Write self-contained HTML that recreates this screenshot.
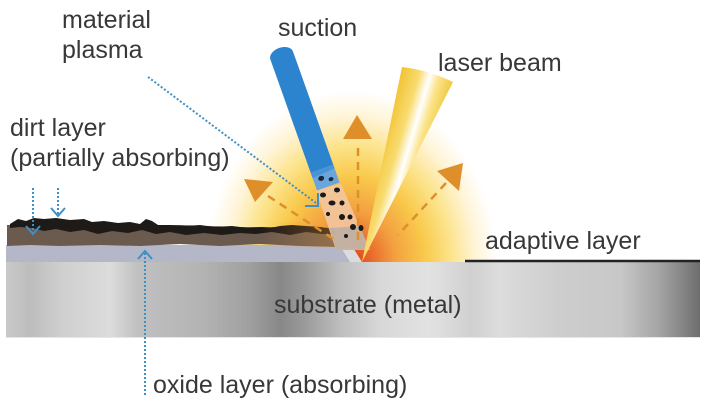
<!DOCTYPE html>
<html>
<head>
<meta charset="utf-8">
<style>
html,body{margin:0;padding:0;background:#fff;}
svg{display:block;}
text{font-family:"Liberation Sans",Arial,sans-serif;font-size:25px;fill:#383838;}
</style>
</head>
<body>
<svg width="707" height="414" viewBox="0 0 707 414" xmlns="http://www.w3.org/2000/svg">
<defs>
  <radialGradient id="glow" gradientUnits="userSpaceOnUse" cx="352" cy="262" r="145" gradientTransform="translate(352 262) scale(1 1.18) translate(-352 -262)">
    <stop offset="0" stop-color="#dc3d16"/>
    <stop offset="0.12" stop-color="#e8652a"/>
    <stop offset="0.3" stop-color="#f3a040"/>
    <stop offset="0.5" stop-color="#f9c94a"/>
    <stop offset="0.68" stop-color="#fce38a"/>
    <stop offset="0.85" stop-color="#fff4d6"/>
    <stop offset="1" stop-color="#ffffff"/>
  </radialGradient>
  <linearGradient id="sub" x1="6" y1="0" x2="700" y2="0" gradientUnits="userSpaceOnUse">
    <stop offset="0" stop-color="#c9c9c9"/>
    <stop offset="0.035" stop-color="#bdbdbd"/>
    <stop offset="0.08" stop-color="#cfcfcf"/>
    <stop offset="0.15" stop-color="#dcdcdc"/>
    <stop offset="0.19" stop-color="#c0c0c0"/>
    <stop offset="0.28" stop-color="#b4b4b4"/>
    <stop offset="0.35" stop-color="#a0a0a0"/>
    <stop offset="0.395" stop-color="#888888"/>
    <stop offset="0.43" stop-color="#9a9a9a"/>
    <stop offset="0.48" stop-color="#bdbdbd"/>
    <stop offset="0.54" stop-color="#d8d8d8"/>
    <stop offset="0.61" stop-color="#e2e2e2"/>
    <stop offset="0.67" stop-color="#d0d0d0"/>
    <stop offset="0.71" stop-color="#dcdcdc"/>
    <stop offset="0.8" stop-color="#cdcdcd"/>
    <stop offset="0.885" stop-color="#c8c8c8"/>
    <stop offset="0.94" stop-color="#a5a5a5"/>
    <stop offset="1" stop-color="#6e6e6e"/>
  </linearGradient>
  <linearGradient id="beam" x1="402" y1="67" x2="453" y2="82" gradientUnits="userSpaceOnUse">
    <stop offset="0" stop-color="#f2c233"/>
    <stop offset="0.35" stop-color="#f8dc70"/>
    <stop offset="0.55" stop-color="#ffffff"/>
    <stop offset="0.72" stop-color="#fbe48a"/>
    <stop offset="1" stop-color="#f0c840"/>
  </linearGradient>
  <linearGradient id="dirtTint" x1="260" y1="0" x2="345" y2="0" gradientUnits="userSpaceOnUse">
    <stop offset="0" stop-color="#f3a040" stop-opacity="0"/>
    <stop offset="1" stop-color="#f3a040" stop-opacity="0.35"/>
  </linearGradient>
</defs>

<!-- glow -->
<rect x="180" y="80" width="345" height="182" fill="url(#glow)"/>

<!-- substrate -->
<rect x="6" y="262" width="694" height="76" fill="url(#sub)"/>
<line x1="6" y1="337.5" x2="700" y2="337.5" stroke="#e6e6e6" stroke-width="1"/>

<!-- oxide layer -->
<polygon points="6,245 345,245 362,262 6,262" fill="#b4b7c8"/>
<polygon points="340,246 352,246 362,262 350,262" fill="#dcdcdc"/>

<!-- dirt brown layer -->
<path d="M7,225 L60,224 L120,226 L180,225 L240,227 L300,227 L338,228 L340,247 L300,246 L260,244 L220,246 L180,244 L140,246 L100,245 L60,246 L30,245 L7,246 Z" fill="#6b5a4e"/>
<!-- gray removed zone -->
<polygon points="330,230 352,228 360,248 336,248" fill="#8f8f8f"/>

<!-- black dirt blobs -->
<path d="M10,224 L18,219 L26,221 L34,218 L44,219 L56,218 L70,220 L84,219 L92,222 L104,221 L118,223 L130,222 L140,224 L146,219 L152,221 L158,225 L170,225 L186,226 L200,225 L214,227 L232,226 L248,228 L262,227 L270,228 L280,226 L292,225 L306,226 L320,227 L334,229 L336,234 L322,234 L306,232 L290,235 L272,232 L256,234 L240,233 L222,235 L204,233 L186,235 L170,232 L156,234 L142,230 L128,233 L112,231 L98,234 L84,230 L70,232 L56,229 L44,231 L32,228 L20,227 L10,228 Z" fill="#1e1a18"/>
<rect x="250" y="222" width="95" height="26" fill="url(#dirtTint)"/>

<!-- particle cone -->
<polygon points="316,190 341,184 370,250 336,250" fill="#f2c7a0" opacity="0.9"/>
<polygon points="330,228 360,226 370,250 336,250" fill="#a9a6a6" opacity="0.6"/>
<g fill="#1a1a1a">
  <ellipse cx="323" cy="195" rx="3" ry="2.5"/>
  <ellipse cx="337" cy="190" rx="3" ry="2.5"/>
  <ellipse cx="332" cy="203" rx="3.5" ry="2.5"/>
  <ellipse cx="342" cy="203" rx="2.5" ry="2.5"/>
  <ellipse cx="342" cy="217" rx="3" ry="3"/>
  <ellipse cx="350" cy="217" rx="2.5" ry="2.5"/>
  <ellipse cx="353" cy="227" rx="3" ry="3"/>
  <ellipse cx="361" cy="228" rx="2.5" ry="3"/>
  <ellipse cx="328" cy="214" rx="2" ry="2"/>
  <ellipse cx="346" cy="236" rx="2" ry="2"/>
</g>

<!-- laser beam -->
<path d="M402,67 Q428,70 453,82 L362,262 Z" fill="url(#beam)"/>

<!-- suction tube -->
<g transform="translate(279 48) rotate(-19.6)">
  <path d="M-12,8 A12 8 0 0 1 12 8 L12 130 L-12 130 Z" fill="#2c84cf"/>
  <rect x="-12" y="128" width="24" height="19" fill="#6aa6dc"/>
  <path d="M-12,128 L12,128 L12,132 L-12,134 Z" fill="#4a94d6"/>
  <ellipse cx="-4" cy="137" rx="3" ry="2.5" fill="#1a2a40"/>
  <ellipse cx="5" cy="141" rx="2.5" ry="2" fill="#1a2a40"/>
</g>

<!-- orange arrows -->
<g fill="#df8f2a">
  <polygon points="357,115 343,139 372,139"/>
  <polygon points="244,179 273,182 255,202"/>
  <polygon points="463,163 437,171 459,191"/>
</g>
<g stroke="#df8f2a" stroke-width="2.5" stroke-dasharray="8 6" fill="none">
  <line x1="358" y1="148" x2="358" y2="240"/>
  <line x1="268" y1="196" x2="335" y2="240"/>
  <line x1="446" y1="183" x2="398" y2="235"/>
</g>

<!-- blue dotted pointers -->
<g stroke="#3d8fc4" stroke-width="2" fill="none">
  <line x1="148" y1="77" x2="316" y2="203" stroke-dasharray="2 2"/>
  <polyline points="305,206 318,206 318,193"/>
  <line x1="33" y1="188" x2="33" y2="233" stroke-dasharray="2 2"/>
  <polyline points="26,226 33,234 40,226"/>
  <line x1="58" y1="188" x2="58" y2="215" stroke-dasharray="2 2"/>
  <polyline points="51,208 58,216 65,208"/>
  <line x1="145" y1="253" x2="145" y2="396" stroke-dasharray="2 2"/>
  <polyline points="138,259 145,251 152,259"/>
</g>

<!-- adaptive layer line -->
<line x1="465" y1="261" x2="700" y2="261" stroke="#222" stroke-width="2.5"/>

<!-- labels -->
<text x="62" y="28">material</text>
<text x="62" y="58">plasma</text>
<text x="10" y="136">dirt layer</text>
<text x="10" y="166">(partially absorbing)</text>
<text x="278" y="36">suction</text>
<text x="438" y="71">laser beam</text>
<text x="485" y="249">adaptive layer</text>
<text x="274" y="313">substrate (metal)</text>
<text x="153" y="393">oxide layer (absorbing)</text>
</svg>
</body>
</html>
